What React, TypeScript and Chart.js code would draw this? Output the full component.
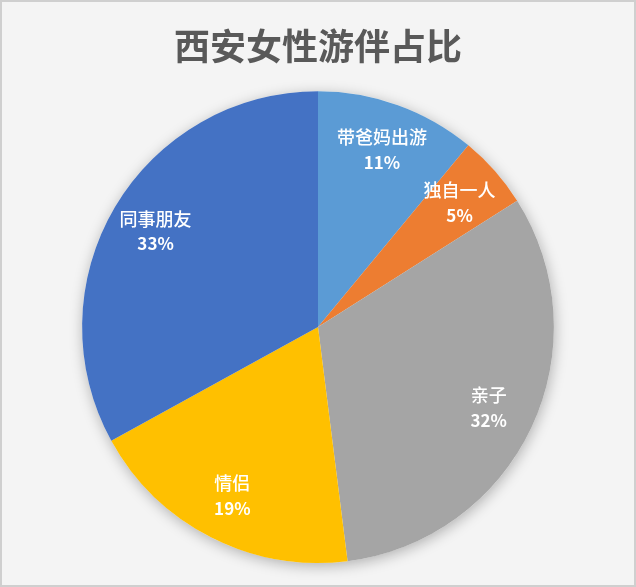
import React, { useEffect, useRef } from "react";
import { Chart, registerables } from "chart.js";

Chart.register(...registerables);

const title = "西安女性游伴占比";
const categories = ["带爸妈出游", "独自一人", "亲子", "情侣", "同事朋友"];
const values = [11, 5, 32, 19, 33];
const colors = ["#5B9BD5", "#ED7D31", "#A5A5A5", "#FFC000", "#4472C4"];

const FONT = '"Noto Sans CJK SC", "Noto Sans", sans-serif';

const shadowPlugin = {
  id: "pieShadow",
  beforeDatasetsDraw(chart: any) {
    const meta = chart.getDatasetMeta(0);
    const arc = meta.data[0];
    if (!arc) return;
    const { x, y, outerRadius } = arc.getProps(["x", "y", "outerRadius"], true);
    const ctx = chart.ctx;
    ctx.save();
    ctx.beginPath();
    ctx.arc(x, y, outerRadius, 0, Math.PI * 2);
    ctx.shadowColor = "rgba(0,0,0,0.28)";
    ctx.shadowBlur = 14;
    ctx.shadowOffsetX = 1;
    ctx.shadowOffsetY = 3;
    ctx.fillStyle = "#f4f4f4";
    ctx.fill();
    ctx.restore();
  },
};

const labelPlugin = {
  id: "sliceLabels",
  afterDatasetsDraw(chart: any) {
    const ctx = chart.ctx;
    const meta = chart.getDatasetMeta(0);
    const data = chart.data.datasets[0].data as number[];
    const total = data.reduce((a: number, b: number) => a + b, 0);
    meta.data.forEach((el: any, i: number) => {
      const { x, y, startAngle, endAngle, outerRadius } = el.getProps(
        ["x", "y", "startAngle", "endAngle", "outerRadius"],
        true
      );
      const mid = (startAngle + endAngle) / 2;
      const r = outerRadius * 0.8;
      const cx = x + Math.cos(mid) * r;
      const cy = y + Math.sin(mid) * r;
      ctx.save();
      ctx.fillStyle = "#ffffff";
      ctx.textAlign = "center";
      ctx.textBaseline = "middle";
      ctx.font = `500 18px ${FONT}`;
      ctx.fillText(chart.data.labels[i], cx, cy - 12);
      ctx.font = `bold 17px ${FONT}`;
      ctx.fillText(`${Math.round((data[i] / total) * 100)}%`, cx, cy + 13);
      ctx.restore();
    });
  },
};

export default function App() {
  const ref = useRef<HTMLCanvasElement>(null);
  useEffect(() => {
    document.body.style.margin = "0";
    const chart = new Chart(ref.current!, {
      type: "pie",
      data: {
        labels: categories,
        datasets: [
          {
            data: values,
            backgroundColor: colors,
            borderWidth: 0,
          },
        ],
      },
      options: {
        animation: false,
        responsive: false,
        maintainAspectRatio: false,
        layout: { padding: { top: 0, bottom: 22, left: 0, right: 0 } },
        plugins: {
          legend: { display: false },
          tooltip: { enabled: false },
          title: {
            display: true,
            text: title,
            color: "#595959",
            font: { family: FONT, size: 36, weight: "bold" },
            padding: { top: 23, bottom: 23 },
          },
        },
      },
      plugins: [shadowPlugin, labelPlugin],
    });
    return () => chart.destroy();
  }, []);
  return (
    <div
      style={{
        position: "absolute",
        left: 0,
        top: 0,
        width: 636,
        height: 587,
        boxSizing: "border-box",
        border: "2px solid #cfcfcf",
        background: "#f4f4f4",
      }}
    >
      <canvas
        ref={ref}
        width={632}
        height={583}
        style={{ display: "block", width: 632, height: 583 }}
      />
    </div>
  );
}
